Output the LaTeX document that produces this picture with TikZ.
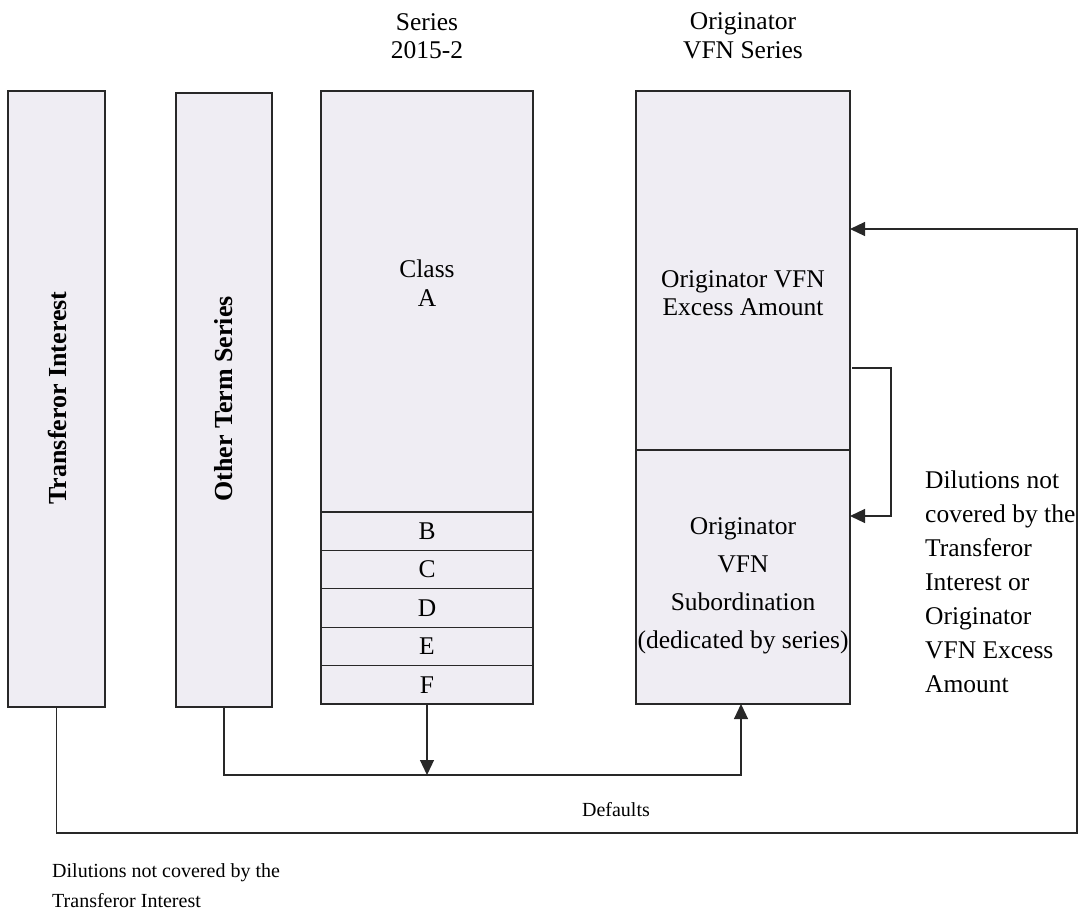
\documentclass[tikz,border=0pt]{standalone}
\usepackage{fontspec}
\setmainfont{Liberation Serif}
\usetikzlibrary{arrows.meta,calc}
\definecolor{boxfill}{RGB}{239,237,243}
\definecolor{edge}{RGB}{40,40,40}
\begin{document}
\begin{tikzpicture}[x=1pt,y=-1pt,
  box/.style={draw=edge, line width=1.2pt, fill=boxfill, anchor=north west, inner sep=0pt, outer sep=0pt},
  conn/.style={draw=edge, line width=1.2pt},
  arr/.style={-{Triangle[length=15pt,width=14pt]}},
  lbl/.style={font=\fontsize{25.5}{28.5}\selectfont, align=center, inner sep=0pt},
  vlbl/.style={font=\fontsize{26}{30}\selectfont\bfseries, rotate=90, inner sep=0pt},
  small/.style={font=\fontsize{20}{30}\selectfont, inner sep=0pt}]
\useasboundingbox (0,0) rectangle (1083,918);
% boxes
\node[box, minimum width=97pt, minimum height=616pt] (ti) at (8,91) {};
\node[box, minimum width=96pt, minimum height=614pt] (ots) at (176,93) {};
\node[box, minimum width=212pt, minimum height=421pt] (ca) at (321,91) {};
\node[box, minimum width=212pt, minimum height=38.4pt] (cb) at (321,512) {};
\node[box, minimum width=212pt, minimum height=38.4pt] (cc) at (321,550.4) {};
\node[box, minimum width=212pt, minimum height=38.4pt] (cd) at (321,588.8) {};
\node[box, minimum width=212pt, minimum height=38.4pt] (ce) at (321,627.2) {};
\node[box, minimum width=212pt, minimum height=38.4pt] (cf) at (321,665.6) {};
\node[box, minimum width=214pt, minimum height=359pt] (vt) at (636,91) {};
\node[box, minimum width=214pt, minimum height=254pt] (vb) at (636,450) {};
% texts
\node[vlbl] (tit) at (57,398) {Transferor Interest};
\node[vlbl] (otst) at (224,399) {Other Term Series};
\node[lbl] (sh) at (427,36) {Series\\2015-2};
\node[lbl] (vh) at (743,36) {Originator\\VFN Series};
\node[lbl] (cat) at (427,283) {Class\\A};
\node[lbl] at (cb.center) (cbt) {B};
\node[lbl] at (cc.center) (cct) {C};
\node[lbl] at (cd.center) (cdt) {D};
\node[lbl] at (ce.center) (cet) {E};
\node[lbl] at (cf.center) (cft) {F};
\node[lbl] (vtt) at (743,293) {Originator VFN\\Excess Amount};
\node[lbl, font=\fontsize{25.5}{38}\selectfont] (vbt) at (743,586) {Originator\\VFN\\Subordination\\(dedicated by series)};
\node[lbl, font=\fontsize{25.5}{34}\selectfont, align=left, anchor=west] (dil) at (925,582) {Dilutions not\\covered by the\\Transferor\\Interest or\\Originator\\VFN Excess\\Amount};
\node[small] (def) at (616,810) {Defaults};
\node[small, align=left, anchor=west] (dil2) at (52,886) {Dilutions not covered by the\\Transferor Interest};
% connectors
\coordinate (dj) at (741,775);
\coordinate (tr) at (1077,833);
\coordinate (ta) at (850,229);
\coordinate (b1) at (852,368);
\coordinate (b2) at (891,516);
\draw[conn,arr] (cf.south) -- (cf.south |- dj);
\draw[conn,arr] (ots.south) |- (dj) -- (dj |- vb.south);
\draw[conn,arr] (ti.south) |- (tr) |- (ta);
\draw[conn,arr] (b1) -| (b2) -- (b2 -| vb.east);
\end{tikzpicture}
\end{document}
